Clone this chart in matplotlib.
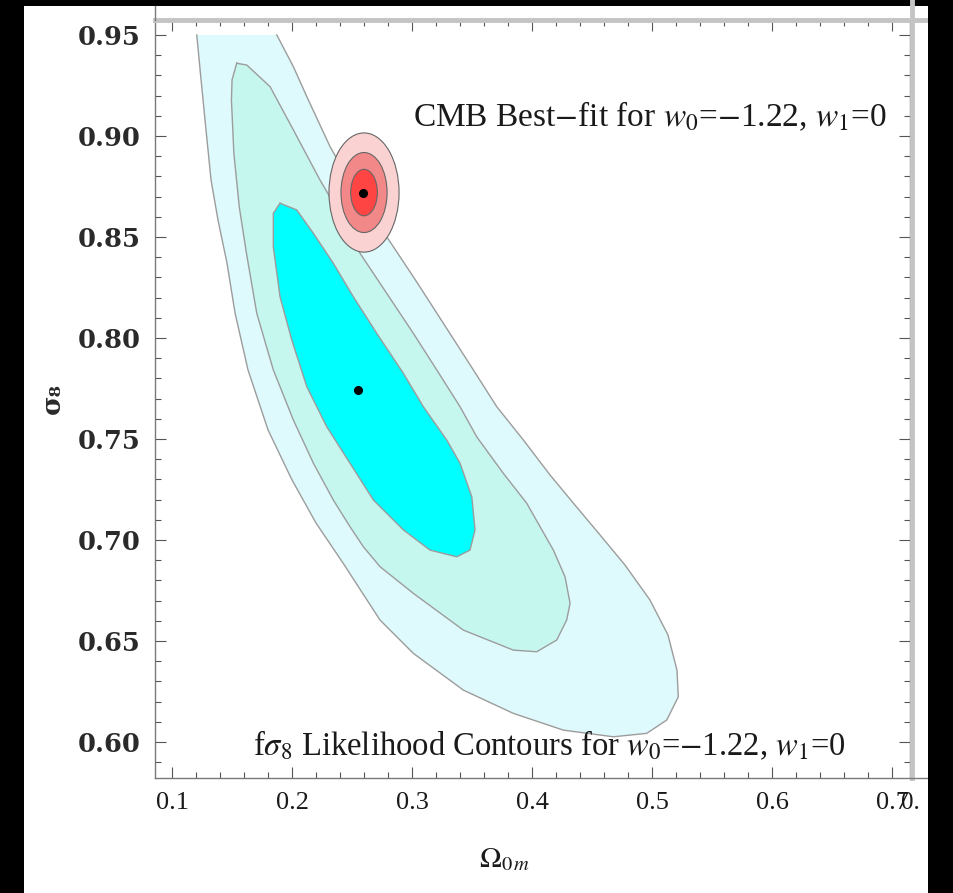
import matplotlib
matplotlib.use("Agg")
import matplotlib.pyplot as plt
from matplotlib.patches import Ellipse, Rectangle
from matplotlib.lines import Line2D
from matplotlib.ticker import MultipleLocator, FormatStrFormatter

plt.rcParams['font.family'] = ['Liberation Serif', 'DejaVu Serif']
plt.rcParams['mathtext.fontset'] = 'stix'

# f sigma_8 likelihood contours (Omega_0m, sigma_8): outer, middle, inner levels
outer_x = [0.1873, 0.2011, 0.2123, 0.2317, 0.2567, 0.2789, 0.3011, 0.3261, 0.3511, 0.3706,
           0.3928, 0.4150, 0.4358, 0.4567, 0.4775, 0.4983, 0.5133, 0.5208, 0.5219,
           0.5123, 0.4956, 0.4678, 0.4261, 0.3844, 0.3428, 0.3011, 0.2733, 0.2425, 0.2200,
           0.2000, 0.1800, 0.1633, 0.1525, 0.1458, 0.1383, 0.1325, 0.1283, 0.1242, 0.1206]
outer_y = [0.9500, 0.9343, 0.9195, 0.8947, 0.8683, 0.8501, 0.8303, 0.8073, 0.7842, 0.7660,
           0.7495, 0.7322, 0.7173, 0.7025, 0.6876, 0.6703, 0.6530, 0.6356, 0.6224,
           0.6109, 0.6043, 0.6026, 0.6059, 0.6142, 0.6257, 0.6439, 0.6604, 0.6886, 0.7084,
           0.7297, 0.7545, 0.7842, 0.8124, 0.8371, 0.8584, 0.8782, 0.9030, 0.9277, 0.9500]

middle_x = [0.1539, 0.1623, 0.1817, 0.2011, 0.2233, 0.2428, 0.2567, 0.2789, 0.3011, 0.3206,
            0.3400, 0.3539, 0.3761, 0.3956, 0.4067, 0.4178, 0.4275, 0.4317, 0.4289, 0.4206,
            0.4039, 0.3844, 0.3428, 0.3011, 0.2733, 0.2594, 0.2483, 0.2344, 0.2178, 0.2011,
            0.1844, 0.1706, 0.1620, 0.1560, 0.1515, 0.1495, 0.1500]
middle_y = [0.9360, 0.9351, 0.9244, 0.9030, 0.8782, 0.8584, 0.8419, 0.8221, 0.8023, 0.7842,
            0.7660, 0.7511, 0.7330, 0.7182, 0.7066, 0.6950, 0.6818, 0.6687, 0.6604, 0.6505,
            0.6447, 0.6455, 0.6554, 0.6736, 0.6868, 0.6967, 0.7066, 0.7198, 0.7380, 0.7594,
            0.7842, 0.8122, 0.8420, 0.8650, 0.8916, 0.9178, 0.9277]

inner_x = [0.1900, 0.2039, 0.2178, 0.2344, 0.2511, 0.2706, 0.2928, 0.3094, 0.3289, 0.3400,
           0.3498, 0.3525, 0.3483, 0.3373, 0.3150, 0.2928, 0.2678, 0.2483, 0.2289, 0.2123,
           0.1998, 0.1900, 0.1844, 0.1844]
inner_y = [0.8667, 0.8634, 0.8518, 0.8370, 0.8204, 0.8023, 0.7825, 0.7660, 0.7495, 0.7380,
           0.7214, 0.7050, 0.6950, 0.6917, 0.6950, 0.7050, 0.7198, 0.7380, 0.7561, 0.7759,
           0.7990, 0.8204, 0.8452, 0.8617]

fs8_best = (0.255, 0.7743)

# CMB best-fit confidence ellipses
cmb_center = (0.2600, 0.8720)
cmb_widths = [0.0584, 0.0384, 0.0222]
cmb_heights = [0.0590, 0.0396, 0.0230]
cmb_best = (0.2592, 0.8718)

x_ticks = [0.1, 0.2, 0.3, 0.4, 0.5, 0.6, 0.7]
y_ticks = [0.60, 0.65, 0.70, 0.75, 0.80, 0.85, 0.90, 0.95]

cyan_colors = ['#dffafc', '#c6f7ef', '#00ffff']
red_colors = ['#fad2d2', '#f28888', '#ff4444']
ink = '#1a1a1a'
wide_font = 'DejaVu Serif'

W, H = 954, 893
fig = plt.figure(figsize=(W / 100, H / 100), dpi=100, facecolor='black')
fig.patches.append(Rectangle((24 / W, 0), (928 - 24) / W, (H - 6) / H,
                             transform=fig.transFigure, facecolor='white',
                             edgecolor='none', zorder=-10))

ax_l, ax_r, ax_t, ax_b = 155, 910, 20, 778
ax = fig.add_axes([ax_l / W, 1 - ax_b / H, (ax_r - ax_l) / W, (ax_b - ax_t) / H])
ax.set_facecolor('white')
ax.set_xlim(0.0858, 0.715)
ax.set_ylim(0.5822, 0.9574)

edge = '#9c9c9c'
for xs, ys, c, closed in [(outer_x, outer_y, cyan_colors[0], False),
                          (middle_x, middle_y, cyan_colors[1], True),
                          (inner_x, inner_y, cyan_colors[2], True)]:
    ax.fill(xs, ys, color=c, lw=0, zorder=1)
    lx, ly = list(xs), list(ys)
    if closed:
        lx.append(xs[0]); ly.append(ys[0])
    ax.plot(lx, ly, color=edge, lw=1.0, zorder=1.5, solid_joinstyle='round')

for w, h, c in zip(cmb_widths, cmb_heights, red_colors):
    ax.add_patch(Ellipse(cmb_center, w, h, facecolor=c, edgecolor='#666666',
                         lw=0.8, zorder=2))

ax.plot([fs8_best[0], cmb_best[0]], [fs8_best[1], cmb_best[1]], 'o',
        color='black', ms=5.5, ls='none', zorder=3)

ax.text(0.301, 0.9094, r"CMB Best$-$fit for $w_0$=$-$1.22, $w_1$=0",
        fontsize=24, ha='left', va='center', color=ink, zorder=4)
ax.text(0.1675, 0.5985, r"f$\sigma_8$ Likelihood Contours for $w_0$=$-$1.22, $w_1$=0",
        fontsize=23.5, ha='left', va='center', color=ink, zorder=4)

ax.set_xticks(x_ticks)
ax.set_yticks(y_ticks)
ax.xaxis.set_minor_locator(MultipleLocator(0.02))
ax.yaxis.set_minor_locator(MultipleLocator(0.01))
ax.xaxis.set_major_formatter(FormatStrFormatter('%.1f'))
ax.yaxis.set_major_formatter(FormatStrFormatter('%.2f'))
ax.tick_params(which='both', direction='in', top=True, right=True,
               colors='#555555', labelcolor=ink, width=0.8)
ax.tick_params(which='major', length=8, pad=10)
ax.tick_params(which='minor', length=4)
ax.tick_params(axis='x', labelsize=19)
for lab in ax.get_yticklabels():
    lab.set_fontfamily(wide_font)
    lab.set_fontweight('bold')
    lab.set_fontsize(18.5)
    lab.set_color('#2a2a2a')
for s in ax.spines.values():
    s.set_color('#7a7a7a')
    s.set_linewidth(1.0)

ax.set_xlabel(r"$\Omega_{0\,m}$", fontsize=21, color=ink)
ax.xaxis.set_label_coords((505 - ax_l) / (ax_r - ax_l), (ax_b - 846) / (ax_b - ax_t))
ax.set_ylabel("σ₈", fontsize=19, color='#2a2a2a', fontfamily=wide_font, fontweight='bold')
ax.yaxis.set_label_coords((65 - ax_l) / (ax_r - ax_l), 0.5)

# frame extensions and heavy rules at the top and right edge
fy = lambda p: 1 - p / H
fx = lambda p: p / W
fig.lines.append(Line2D([fx(ax_l), fx(928)], [fy(ax_t), fy(ax_t)], lw=3.5,
                        color='#c4c4c4', transform=fig.transFigure, zorder=5))
fig.lines.append(Line2D([fx(912), fx(912)], [fy(ax_b), 1.0], lw=3.5,
                        color='#c4c4c4', transform=fig.transFigure, zorder=5))
fig.lines.append(Line2D([fx(ax_r), fx(928)], [fy(ax_b), fy(ax_b)], lw=1.0,
                        color='#7a7a7a', transform=fig.transFigure, zorder=5))
fig.lines.append(Line2D([fx(ax_l), fx(ax_l)], [fy(ax_t), fy(6)], lw=1.0,
                        color='#7a7a7a', transform=fig.transFigure, zorder=5))
fig.text(fx(901), fy(803), "0.", fontsize=18, color=ink, ha='left', va='center')
fig.patches.append(Rectangle((fx(928), 0), 1 - fx(928), 1, transform=fig.transFigure,
                             facecolor='black', edgecolor='none', zorder=20))

fig.savefig("out.png", dpi=100, facecolor='black')
